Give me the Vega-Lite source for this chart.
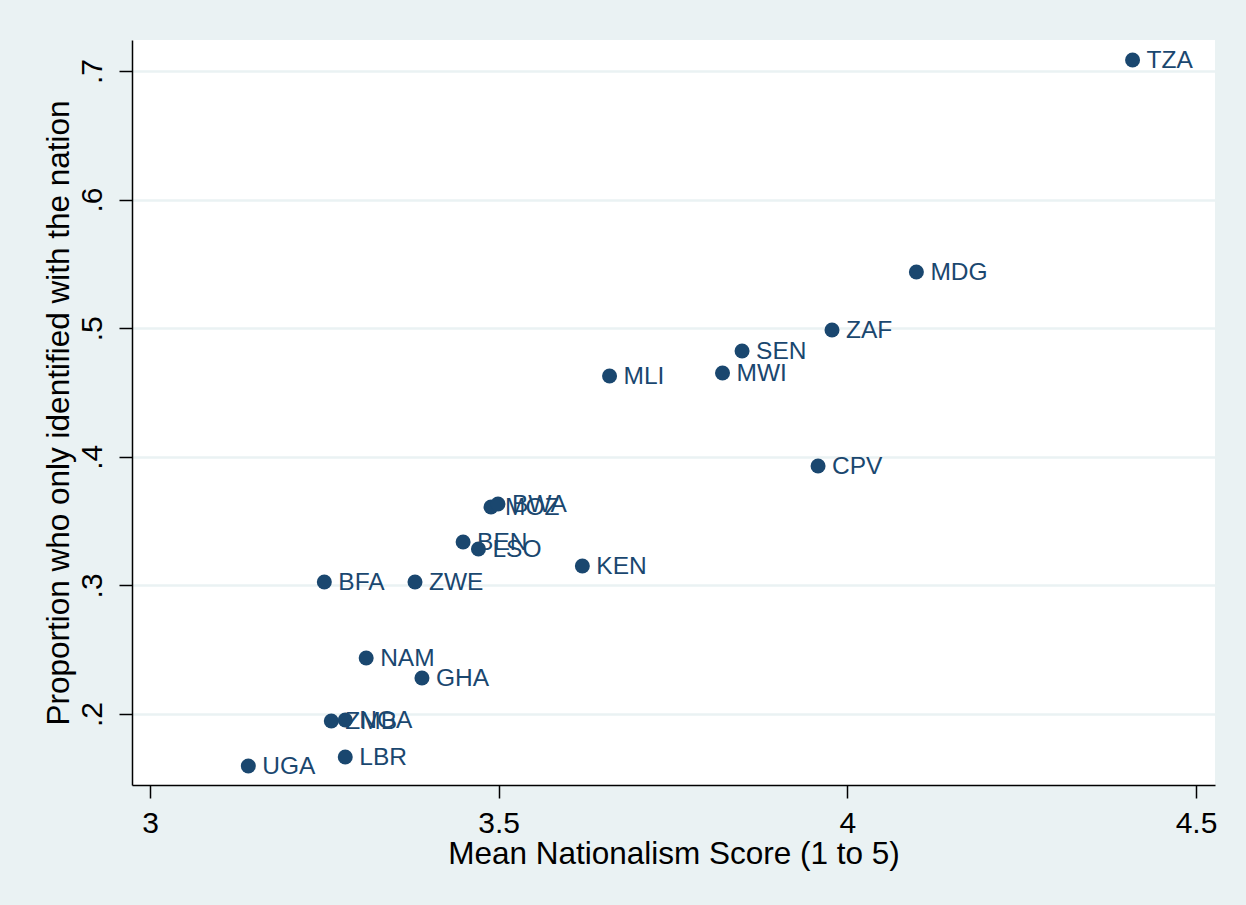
{
  "$schema": "https://vega.github.io/schema/vega-lite/v6.json",
  "width": 1083,
  "height": 745,
  "autosize": {"type": "none"},
  "padding": {"left": 132, "top": 40, "right": 31, "bottom": 120},
  "background": "#EAF2F3",
  "config": {
    "view": {"fill": "white", "stroke": null},
    "font": "Liberation Sans"
  },
  "data": {
    "values": [
      {"country": "UGA", "nat": 3.141, "prop": 0.1596},
      {"country": "LBR", "nat": 3.280, "prop": 0.1666},
      {"country": "ZMB", "nat": 3.260, "prop": 0.1946},
      {"country": "NGA", "nat": 3.280, "prop": 0.1953},
      {"country": "GHA", "nat": 3.390, "prop": 0.2280},
      {"country": "NAM", "nat": 3.310, "prop": 0.2436},
      {"country": "BFA", "nat": 3.250, "prop": 0.3026},
      {"country": "ZWE", "nat": 3.380, "prop": 0.3026},
      {"country": "KEN", "nat": 3.620, "prop": 0.3151},
      {"country": "LSO", "nat": 3.471, "prop": 0.3283},
      {"country": "BEN", "nat": 3.449, "prop": 0.3337},
      {"country": "MOZ", "nat": 3.489, "prop": 0.3610},
      {"country": "BWA", "nat": 3.499, "prop": 0.3633},
      {"country": "CPV", "nat": 3.958, "prop": 0.3928},
      {"country": "MLI", "nat": 3.659, "prop": 0.4628},
      {"country": "MWI", "nat": 3.821, "prop": 0.4652},
      {"country": "SEN", "nat": 3.849, "prop": 0.4823},
      {"country": "ZAF", "nat": 3.978, "prop": 0.4986},
      {"country": "MDG", "nat": 4.099, "prop": 0.5437},
      {"country": "TZA", "nat": 4.409, "prop": 0.7086}
    ]
  },
  "encoding": {
    "x": {
      "field": "nat",
      "type": "quantitative",
      "scale": {"domain": [2.9742, 4.5272], "nice": false, "zero": false},
      "axis": {
        "title": "Mean Nationalism Score (1 to 5)",
        "values": [3, 3.5, 4, 4.5],
        "format": "~g",
        "grid": false,
        "domainColor": "black",
        "domainWidth": 1.5,
        "tickColor": "black",
        "tickWidth": 1.5,
        "tickSize": 13,
        "labelFontSize": 30,
        "labelColor": "black",
        "labelPadding": 10,
        "labelFont": "Liberation Sans",
        "titleFont": "Liberation Sans",
        "titleFontSize": 31.5,
        "titleFontWeight": "normal",
        "titleColor": "black",
        "titlePadding": 0
      }
    },
    "y": {
      "field": "prop",
      "type": "quantitative",
      "scale": {"domain": [0.1448, 0.7241], "nice": false, "zero": false},
      "axis": {
        "title": "Proportion who only identified with the nation",
        "values": [0.2, 0.3, 0.4, 0.5, 0.6, 0.7],
        "labelExpr": "replace(format(datum.value, '.1f'), '0.', '.')",
        "grid": true,
        "gridColor": "#EAF2F3",
        "gridWidth": 2.5,
        "domainColor": "black",
        "domainWidth": 1.5,
        "tickColor": "black",
        "tickWidth": 1.5,
        "tickSize": 13,
        "labelAngle": -90,
        "labelFontSize": 30,
        "labelColor": "black",
        "labelPadding": 12,
        "labelFont": "Liberation Sans",
        "titleFont": "Liberation Sans",
        "titleFontSize": 31.5,
        "titleFontWeight": "normal",
        "titleColor": "black",
        "titlePadding": 2
      }
    }
  },
  "layer": [
    {
      "mark": {"type": "circle", "size": 225, "color": "#1A476F", "opacity": 1}
    },
    {
      "mark": {
        "type": "text",
        "align": "left",
        "baseline": "middle",
        "dx": 14,
        "dy": 1,
        "fontSize": 24.5,
        "font": "Liberation Sans",
        "color": "#1A476F"
      },
      "encoding": {"text": {"field": "country"}}
    }
  ]
}
